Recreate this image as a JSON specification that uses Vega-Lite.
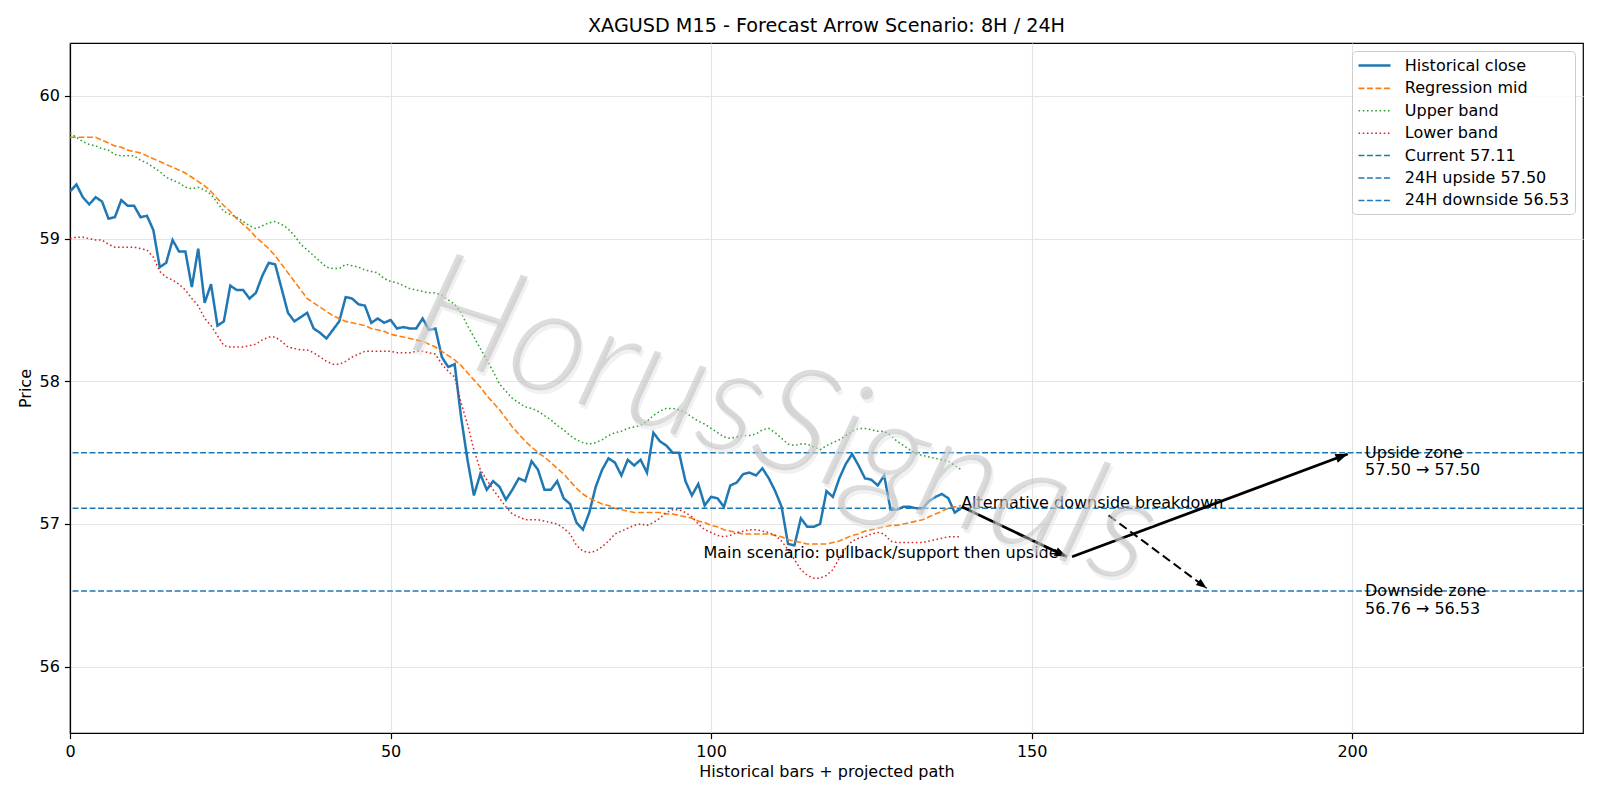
{
  "$schema": "https://vega.github.io/schema/vega-lite/v6.json",
  "width": 1513,
  "height": 690,
  "autosize": {"type": "none"},
  "padding": {"left": 70, "top": 43, "right": 17, "bottom": 67},
  "background": "white",
  "title": {
    "text": "XAGUSD M15 - Forecast Arrow Scenario: 8H / 24H",
    "font": "DejaVu Sans",
    "fontSize": 19.2,
    "fontWeight": "normal",
    "color": "black",
    "anchor": "middle",
    "offset": 7
  },
  "datasets": {
    "bars": [
      {"bar": 0, "close": 59.33, "mid": 59.71, "upper": 59.74, "lower": 59.00},
      {"bar": 1, "close": 59.38, "mid": 59.71, "upper": 59.71, "lower": 59.01},
      {"bar": 2, "close": 59.29, "mid": 59.71, "upper": 59.68, "lower": 59.01},
      {"bar": 3, "close": 59.24, "mid": 59.71, "upper": 59.66, "lower": 59.00},
      {"bar": 4, "close": 59.29, "mid": 59.71, "upper": 59.65, "lower": 58.99},
      {"bar": 5, "close": 59.26, "mid": 59.69, "upper": 59.63, "lower": 58.99},
      {"bar": 6, "close": 59.14, "mid": 59.67, "upper": 59.62, "lower": 58.96},
      {"bar": 7, "close": 59.15, "mid": 59.65, "upper": 59.59, "lower": 58.94},
      {"bar": 8, "close": 59.27, "mid": 59.64, "upper": 59.58, "lower": 58.94},
      {"bar": 9, "close": 59.23, "mid": 59.62, "upper": 59.58, "lower": 58.94},
      {"bar": 10, "close": 59.23, "mid": 59.61, "upper": 59.58, "lower": 58.94},
      {"bar": 11, "close": 59.15, "mid": 59.60, "upper": 59.55, "lower": 58.93},
      {"bar": 12, "close": 59.16, "mid": 59.58, "upper": 59.53, "lower": 58.92},
      {"bar": 13, "close": 59.06, "mid": 59.56, "upper": 59.50, "lower": 58.87},
      {"bar": 14, "close": 58.80, "mid": 59.54, "upper": 59.47, "lower": 58.77},
      {"bar": 15, "close": 58.83, "mid": 59.52, "upper": 59.43, "lower": 58.73},
      {"bar": 16, "close": 58.99, "mid": 59.50, "upper": 59.41, "lower": 58.71},
      {"bar": 17, "close": 58.91, "mid": 59.48, "upper": 59.39, "lower": 58.68},
      {"bar": 18, "close": 58.91, "mid": 59.46, "upper": 59.36, "lower": 58.64},
      {"bar": 19, "close": 58.66, "mid": 59.43, "upper": 59.35, "lower": 58.58},
      {"bar": 20, "close": 58.93, "mid": 59.40, "upper": 59.36, "lower": 58.53},
      {"bar": 21, "close": 58.55, "mid": 59.37, "upper": 59.34, "lower": 58.44},
      {"bar": 22, "close": 58.68, "mid": 59.33, "upper": 59.31, "lower": 58.39},
      {"bar": 23, "close": 58.39, "mid": 59.28, "upper": 59.25, "lower": 58.32},
      {"bar": 24, "close": 58.42, "mid": 59.23, "upper": 59.19, "lower": 58.25},
      {"bar": 25, "close": 58.67, "mid": 59.19, "upper": 59.17, "lower": 58.24},
      {"bar": 26, "close": 58.64, "mid": 59.14, "upper": 59.15, "lower": 58.24},
      {"bar": 27, "close": 58.64, "mid": 59.10, "upper": 59.12, "lower": 58.24},
      {"bar": 28, "close": 58.58, "mid": 59.06, "upper": 59.09, "lower": 58.25},
      {"bar": 29, "close": 58.62, "mid": 59.01, "upper": 59.07, "lower": 58.26},
      {"bar": 30, "close": 58.74, "mid": 58.97, "upper": 59.09, "lower": 58.29},
      {"bar": 31, "close": 58.83, "mid": 58.93, "upper": 59.11, "lower": 58.31},
      {"bar": 32, "close": 58.82, "mid": 58.88, "upper": 59.12, "lower": 58.31},
      {"bar": 33, "close": 58.65, "mid": 58.82, "upper": 59.10, "lower": 58.28},
      {"bar": 34, "close": 58.48, "mid": 58.76, "upper": 59.07, "lower": 58.24},
      {"bar": 35, "close": 58.42, "mid": 58.70, "upper": 59.02, "lower": 58.23},
      {"bar": 36, "close": 58.45, "mid": 58.64, "upper": 58.96, "lower": 58.22},
      {"bar": 37, "close": 58.48, "mid": 58.58, "upper": 58.92, "lower": 58.22},
      {"bar": 38, "close": 58.37, "mid": 58.55, "upper": 58.88, "lower": 58.20},
      {"bar": 39, "close": 58.34, "mid": 58.52, "upper": 58.84, "lower": 58.17},
      {"bar": 40, "close": 58.30, "mid": 58.49, "upper": 58.80, "lower": 58.14},
      {"bar": 41, "close": 58.36, "mid": 58.46, "upper": 58.79, "lower": 58.12},
      {"bar": 42, "close": 58.42, "mid": 58.44, "upper": 58.79, "lower": 58.12},
      {"bar": 43, "close": 58.59, "mid": 58.42, "upper": 58.82, "lower": 58.14},
      {"bar": 44, "close": 58.58, "mid": 58.41, "upper": 58.81, "lower": 58.17},
      {"bar": 45, "close": 58.54, "mid": 58.40, "upper": 58.80, "lower": 58.19},
      {"bar": 46, "close": 58.53, "mid": 58.39, "upper": 58.78, "lower": 58.21},
      {"bar": 47, "close": 58.41, "mid": 58.37, "upper": 58.77, "lower": 58.21},
      {"bar": 48, "close": 58.44, "mid": 58.36, "upper": 58.76, "lower": 58.21},
      {"bar": 49, "close": 58.41, "mid": 58.35, "upper": 58.72, "lower": 58.21},
      {"bar": 50, "close": 58.43, "mid": 58.33, "upper": 58.70, "lower": 58.21},
      {"bar": 51, "close": 58.37, "mid": 58.32, "upper": 58.69, "lower": 58.20},
      {"bar": 52, "close": 58.38, "mid": 58.31, "upper": 58.67, "lower": 58.20},
      {"bar": 53, "close": 58.37, "mid": 58.30, "upper": 58.65, "lower": 58.20},
      {"bar": 54, "close": 58.37, "mid": 58.29, "upper": 58.64, "lower": 58.21},
      {"bar": 55, "close": 58.44, "mid": 58.28, "upper": 58.63, "lower": 58.21},
      {"bar": 56, "close": 58.36, "mid": 58.26, "upper": 58.62, "lower": 58.20},
      {"bar": 57, "close": 58.37, "mid": 58.24, "upper": 58.62, "lower": 58.19},
      {"bar": 58, "close": 58.17, "mid": 58.21, "upper": 58.60, "lower": 58.12},
      {"bar": 59, "close": 58.10, "mid": 58.18, "upper": 58.57, "lower": 58.07},
      {"bar": 60, "close": 58.12, "mid": 58.15, "upper": 58.54, "lower": 58.03},
      {"bar": 61, "close": 57.75, "mid": 58.11, "upper": 58.48, "lower": 57.85},
      {"bar": 62, "close": 57.45, "mid": 58.06, "upper": 58.39, "lower": 57.70},
      {"bar": 63, "close": 57.20, "mid": 58.01, "upper": 58.31, "lower": 57.52},
      {"bar": 64, "close": 57.35, "mid": 57.96, "upper": 58.23, "lower": 57.38},
      {"bar": 65, "close": 57.24, "mid": 57.90, "upper": 58.15, "lower": 57.31},
      {"bar": 66, "close": 57.30, "mid": 57.85, "upper": 58.07, "lower": 57.24},
      {"bar": 67, "close": 57.26, "mid": 57.80, "upper": 57.98, "lower": 57.18},
      {"bar": 68, "close": 57.17, "mid": 57.74, "upper": 57.93, "lower": 57.12},
      {"bar": 69, "close": 57.24, "mid": 57.68, "upper": 57.88, "lower": 57.07},
      {"bar": 70, "close": 57.32, "mid": 57.63, "upper": 57.85, "lower": 57.05},
      {"bar": 71, "close": 57.30, "mid": 57.58, "upper": 57.82, "lower": 57.03},
      {"bar": 72, "close": 57.44, "mid": 57.54, "upper": 57.81, "lower": 57.03},
      {"bar": 73, "close": 57.38, "mid": 57.50, "upper": 57.79, "lower": 57.03},
      {"bar": 74, "close": 57.24, "mid": 57.47, "upper": 57.76, "lower": 57.02},
      {"bar": 75, "close": 57.24, "mid": 57.43, "upper": 57.73, "lower": 57.01},
      {"bar": 76, "close": 57.30, "mid": 57.39, "upper": 57.69, "lower": 57.00},
      {"bar": 77, "close": 57.18, "mid": 57.35, "upper": 57.66, "lower": 56.97},
      {"bar": 78, "close": 57.14, "mid": 57.30, "upper": 57.62, "lower": 56.93},
      {"bar": 79, "close": 57.01, "mid": 57.25, "upper": 57.59, "lower": 56.85},
      {"bar": 80, "close": 56.96, "mid": 57.21, "upper": 57.57, "lower": 56.81},
      {"bar": 81, "close": 57.08, "mid": 57.18, "upper": 57.56, "lower": 56.80},
      {"bar": 82, "close": 57.26, "mid": 57.16, "upper": 57.57, "lower": 56.81},
      {"bar": 83, "close": 57.38, "mid": 57.14, "upper": 57.59, "lower": 56.84},
      {"bar": 84, "close": 57.46, "mid": 57.13, "upper": 57.62, "lower": 56.88},
      {"bar": 85, "close": 57.43, "mid": 57.11, "upper": 57.64, "lower": 56.93},
      {"bar": 86, "close": 57.34, "mid": 57.10, "upper": 57.65, "lower": 56.95},
      {"bar": 87, "close": 57.45, "mid": 57.09, "upper": 57.67, "lower": 56.97},
      {"bar": 88, "close": 57.41, "mid": 57.08, "upper": 57.68, "lower": 56.99},
      {"bar": 89, "close": 57.45, "mid": 57.08, "upper": 57.69, "lower": 57.00},
      {"bar": 90, "close": 57.36, "mid": 57.08, "upper": 57.72, "lower": 56.99},
      {"bar": 91, "close": 57.64, "mid": 57.08, "upper": 57.76, "lower": 57.01},
      {"bar": 92, "close": 57.58, "mid": 57.08, "upper": 57.79, "lower": 57.04},
      {"bar": 93, "close": 57.55, "mid": 57.07, "upper": 57.81, "lower": 57.08},
      {"bar": 94, "close": 57.50, "mid": 57.07, "upper": 57.81, "lower": 57.10},
      {"bar": 95, "close": 57.50, "mid": 57.06, "upper": 57.80, "lower": 57.10},
      {"bar": 96, "close": 57.30, "mid": 57.05, "upper": 57.78, "lower": 57.08},
      {"bar": 97, "close": 57.20, "mid": 57.04, "upper": 57.75, "lower": 57.05},
      {"bar": 98, "close": 57.28, "mid": 57.02, "upper": 57.72, "lower": 57.00},
      {"bar": 99, "close": 57.13, "mid": 57.01, "upper": 57.70, "lower": 56.96},
      {"bar": 100, "close": 57.19, "mid": 56.99, "upper": 57.67, "lower": 56.94},
      {"bar": 101, "close": 57.18, "mid": 56.98, "upper": 57.64, "lower": 56.92},
      {"bar": 102, "close": 57.12, "mid": 56.96, "upper": 57.61, "lower": 56.91},
      {"bar": 103, "close": 57.27, "mid": 56.95, "upper": 57.60, "lower": 56.92},
      {"bar": 104, "close": 57.29, "mid": 56.94, "upper": 57.61, "lower": 56.94},
      {"bar": 105, "close": 57.35, "mid": 56.93, "upper": 57.62, "lower": 56.95},
      {"bar": 106, "close": 57.36, "mid": 56.93, "upper": 57.62, "lower": 56.96},
      {"bar": 107, "close": 57.34, "mid": 56.93, "upper": 57.63, "lower": 56.96},
      {"bar": 108, "close": 57.39, "mid": 56.93, "upper": 57.66, "lower": 56.95},
      {"bar": 109, "close": 57.32, "mid": 56.93, "upper": 57.67, "lower": 56.94},
      {"bar": 110, "close": 57.23, "mid": 56.92, "upper": 57.64, "lower": 56.92},
      {"bar": 111, "close": 57.12, "mid": 56.91, "upper": 57.60, "lower": 56.88},
      {"bar": 112, "close": 56.86, "mid": 56.89, "upper": 57.56, "lower": 56.82},
      {"bar": 113, "close": 56.85, "mid": 56.88, "upper": 57.55, "lower": 56.75},
      {"bar": 114, "close": 57.04, "mid": 56.87, "upper": 57.56, "lower": 56.68},
      {"bar": 115, "close": 56.98, "mid": 56.86, "upper": 57.56, "lower": 56.64},
      {"bar": 116, "close": 56.98, "mid": 56.86, "upper": 57.54, "lower": 56.62},
      {"bar": 117, "close": 57.00, "mid": 56.86, "upper": 57.52, "lower": 56.62},
      {"bar": 118, "close": 57.23, "mid": 56.86, "upper": 57.55, "lower": 56.64},
      {"bar": 119, "close": 57.19, "mid": 56.87, "upper": 57.57, "lower": 56.68},
      {"bar": 120, "close": 57.32, "mid": 56.88, "upper": 57.59, "lower": 56.76},
      {"bar": 121, "close": 57.42, "mid": 56.90, "upper": 57.62, "lower": 56.83},
      {"bar": 122, "close": 57.49, "mid": 56.92, "upper": 57.65, "lower": 56.88},
      {"bar": 123, "close": 57.41, "mid": 56.93, "upper": 57.67, "lower": 56.90},
      {"bar": 124, "close": 57.32, "mid": 56.95, "upper": 57.67, "lower": 56.91},
      {"bar": 125, "close": 57.31, "mid": 56.96, "upper": 57.66, "lower": 56.93},
      {"bar": 126, "close": 57.27, "mid": 56.97, "upper": 57.65, "lower": 56.94},
      {"bar": 127, "close": 57.34, "mid": 56.98, "upper": 57.65, "lower": 56.93},
      {"bar": 128, "close": 57.10, "mid": 56.99, "upper": 57.62, "lower": 56.88},
      {"bar": 129, "close": 57.10, "mid": 56.99, "upper": 57.58, "lower": 56.87},
      {"bar": 130, "close": 57.12, "mid": 57.00, "upper": 57.55, "lower": 56.87},
      {"bar": 131, "close": 57.12, "mid": 57.01, "upper": 57.52, "lower": 56.87},
      {"bar": 132, "close": 57.11, "mid": 57.02, "upper": 57.49, "lower": 56.87},
      {"bar": 133, "close": 57.11, "mid": 57.03, "upper": 57.48, "lower": 56.87},
      {"bar": 134, "close": 57.16, "mid": 57.05, "upper": 57.47, "lower": 56.88},
      {"bar": 135, "close": 57.19, "mid": 57.07, "upper": 57.46, "lower": 56.89},
      {"bar": 136, "close": 57.21, "mid": 57.09, "upper": 57.45, "lower": 56.90},
      {"bar": 137, "close": 57.18, "mid": 57.11, "upper": 57.44, "lower": 56.91},
      {"bar": 138, "close": 57.08, "mid": 57.12, "upper": 57.41, "lower": 56.91},
      {"bar": 139, "close": 57.11, "mid": 57.13, "upper": 57.38, "lower": 56.91}
    ],
    "levels": [
      {"series": "Current 57.11", "price": 57.11},
      {"series": "24H upside 57.50", "price": 57.50},
      {"series": "24H downside 56.53", "price": 56.53}
    ],
    "arrows": [
      {"arrow": "pullback", "x": 139.1, "y": 57.12, "x2": 155.5, "y2": 56.77},
      {"arrow": "upside", "x": 156.3, "y": 56.77, "x2": 199.3, "y2": 57.49},
      {"arrow": "breakdown", "x": 162.0, "y": 57.06, "x2": 177.3, "y2": 56.55}
    ],
    "zones": [
      {"label": "Upside zone\n57.50 → 57.50", "x": 202, "y": 57.50},
      {"label": "Downside zone\n56.76 → 56.53", "x": 202, "y": 56.53}
    ],
    "notes": [
      {"label": "Main scenario: pullback/support then upside", "x": 154.2, "y": 56.76},
      {"label": "Alternative downside breakdown", "x": 139.0, "y": 57.11}
    ],
    "brand": [
      {"label": "HorusSignals", "x": 111.4, "y": 57.70}
    ]
  },
  "encoding": {
    "x": {
      "field": "bar", "type": "quantitative",
      "title": "Historical bars + projected path",
      "scale": {"domain": [0, 236], "nice": false, "zero": false},
      "axis": {"values": [0, 50, 100, 150, 200], "format": "d"}
    },
    "y": {
      "field": "price", "type": "quantitative", "title": "Price",
      "scale": {"domain": [55.535, 60.371], "nice": false, "zero": false},
      "axis": {"values": [56, 57, 58, 59, 60], "format": "d"}
    }
  },
  "layer": [
    {
      "data": {"name": "bars"},
      "transform": [{"fold": ["close", "mid", "upper", "lower"], "as": ["series", "price"]}],
      "mark": {"type": "line"},
      "encoding": {
        "color": {
          "field": "series", "type": "nominal",
          "scale": {
            "domain": ["close", "mid", "upper", "lower", "Current 57.11", "24H upside 57.50", "24H downside 56.53"],
            "range": ["#1f77b4", "#ff7f0e", "#2ca02c", "#d62728", "#1f77b4", "#1f77b4", "#1f77b4"]
          },
          "legend": {
            "title": null,
            "labelExpr": "datum.label === 'close' ? 'Historical close' : datum.label === 'mid' ? 'Regression mid' : datum.label === 'upper' ? 'Upper band' : datum.label === 'lower' ? 'Lower band' : datum.label"
          }
        },
        "strokeDash": {
          "field": "series", "type": "nominal",
          "scale": {
            "domain": ["close", "mid", "upper", "lower", "Current 57.11", "24H upside 57.50", "24H downside 56.53"],
            "range": [[1, 0], [5.9, 2.6], [1.6, 2.6], [1.6, 2.6], [5.9, 2.6], [5.9, 2.6], [5.9, 2.6]]
          },
          "legend": {
            "title": null,
            "labelExpr": "datum.label === 'close' ? 'Historical close' : datum.label === 'mid' ? 'Regression mid' : datum.label === 'upper' ? 'Upper band' : datum.label === 'lower' ? 'Lower band' : datum.label"
          }
        },
        "strokeWidth": {
          "field": "series", "type": "nominal",
          "scale": {
            "type": "ordinal",
            "domain": ["close", "mid", "upper", "lower", "Current 57.11", "24H upside 57.50", "24H downside 56.53"],
            "range": [2.5, 1.6, 1.5, 1.5, 1.5, 1.5, 1.5]
          },
          "legend": {
            "title": null,
            "labelExpr": "datum.label === 'close' ? 'Historical close' : datum.label === 'mid' ? 'Regression mid' : datum.label === 'upper' ? 'Upper band' : datum.label === 'lower' ? 'Lower band' : datum.label"
          }
        }
      }
    },
    {
      "data": {"name": "levels"},
      "mark": {"type": "rule"},
      "encoding": {
        "x": null,
        "color": {"field": "series", "type": "nominal"},
        "strokeDash": {"field": "series", "type": "nominal"},
        "strokeWidth": {
          "field": "series", "type": "nominal",
          "scale": {
            "type": "ordinal",
            "domain": ["close", "mid", "upper", "lower", "Current 57.11", "24H upside 57.50", "24H downside 56.53"],
            "range": [2.5, 1.6, 1.5, 1.5, 1.5, 1.5, 1.5]
          }
        }
      }
    },
    {
      "data": {"name": "arrows"},
      "transform": [{"filter": "datum.arrow !== 'breakdown'"}],
      "mark": {"type": "rule", "color": "black", "strokeWidth": 2.8},
      "encoding": {
        "x": {"field": "x", "type": "quantitative"},
        "y": {"field": "y", "type": "quantitative"},
        "x2": {"field": "x2"},
        "y2": {"field": "y2"}
      }
    },
    {
      "data": {"name": "arrows"},
      "transform": [{"filter": "datum.arrow === 'breakdown'"}],
      "mark": {"type": "rule", "color": "black", "strokeWidth": 2, "strokeDash": [9, 4.5]},
      "encoding": {
        "x": {"field": "x", "type": "quantitative"},
        "y": {"field": "y", "type": "quantitative"},
        "x2": {"field": "x2"},
        "y2": {"field": "y2"}
      }
    },
    {
      "data": {"name": "arrows"},
      "transform": [{"filter": "datum.arrow === 'pullback'"}],
      "mark": {"type": "point", "shape": "M0,0L-2,-0.75L-2,0.75Z", "filled": true, "color": "black", "opacity": 1, "size": 150, "angle": 25.4},
      "encoding": {
        "x": {"field": "x2", "type": "quantitative"},
        "y": {"field": "y2", "type": "quantitative"}
      }
    },
    {
      "data": {"name": "arrows"},
      "transform": [{"filter": "datum.arrow === 'upside'"}],
      "mark": {"type": "point", "shape": "M0,0L-2,-0.75L-2,0.75Z", "filled": true, "color": "black", "opacity": 1, "size": 150, "angle": 339.5},
      "encoding": {
        "x": {"field": "x2", "type": "quantitative"},
        "y": {"field": "y2", "type": "quantitative"}
      }
    },
    {
      "data": {"name": "arrows"},
      "transform": [{"filter": "datum.arrow === 'breakdown'"}],
      "mark": {"type": "point", "shape": "M0,0L-2,-0.75L-2,0.75Z", "filled": true, "color": "black", "opacity": 1, "size": 110, "angle": 36.6},
      "encoding": {
        "x": {"field": "x2", "type": "quantitative"},
        "y": {"field": "y2", "type": "quantitative"}
      }
    },
    {
      "data": {"name": "notes"},
      "transform": [{"filter": "datum.x > 150"}],
      "mark": {"type": "text", "align": "right", "baseline": "alphabetic", "font": "DejaVu Sans", "fontSize": 16, "color": "black"},
      "encoding": {
        "x": {"field": "x", "type": "quantitative"},
        "y": {"field": "y", "type": "quantitative"},
        "text": {"field": "label"}
      }
    },
    {
      "data": {"name": "notes"},
      "transform": [{"filter": "datum.x < 150"}],
      "mark": {"type": "text", "align": "left", "baseline": "alphabetic", "font": "DejaVu Sans", "fontSize": 16, "color": "black"},
      "encoding": {
        "x": {"field": "x", "type": "quantitative"},
        "y": {"field": "y", "type": "quantitative"},
        "text": {"field": "label"}
      }
    },
    {
      "data": {"name": "zones"},
      "mark": {"type": "text", "align": "left", "baseline": "middle", "lineBreak": "\n", "lineHeight": 17.5, "font": "DejaVu Sans", "fontSize": 16, "color": "black"},
      "encoding": {
        "x": {"field": "x", "type": "quantitative"},
        "y": {"field": "y", "type": "quantitative"},
        "text": {"field": "label"}
      }
    },
    {
      "data": {"name": "brand"},
      "mark": {"type": "text", "align": "center", "baseline": "middle", "dx": 3, "dy": 3, "font": "Lato", "fontStyle": "italic", "fontWeight": 300, "fontSize": 148, "angle": 18, "color": "#e4e4e4", "opacity": 0.5},
      "encoding": {
        "x": {"field": "x", "type": "quantitative"},
        "y": {"field": "y", "type": "quantitative"},
        "text": {"field": "label"}
      }
    },
    {
      "data": {"name": "brand"},
      "mark": {"type": "text", "align": "center", "baseline": "middle", "font": "Lato", "fontStyle": "italic", "fontWeight": 300, "fontSize": 148, "angle": 18, "color": "#bababa", "opacity": 0.5},
      "encoding": {
        "x": {"field": "x", "type": "quantitative"},
        "y": {"field": "y", "type": "quantitative"},
        "text": {"field": "label"}
      }
    }
  ],
  "config": {
    "view": {"stroke": "black", "strokeWidth": 1.2},
    "axis": {
      "labelFont": "DejaVu Sans",
      "labelFontSize": 16,
      "labelColor": "black",
      "titleFont": "DejaVu Sans",
      "titleFontSize": 16,
      "titleFontWeight": "normal",
      "titleColor": "black",
      "domainColor": "black",
      "domainWidth": 1.2,
      "tickColor": "black",
      "tickSize": 5.6,
      "tickWidth": 1.2,
      "labelPadding": 5,
      "grid": true,
      "gridColor": "#e4e4e4",
      "gridWidth": 1.2
    },
    "axisX": {"titlePadding": 4, "labelFlush": false},
    "axisY": {"titlePadding": 6, "labelFlush": false},
    "legend": {
      "orient": "top-right",
      "offset": 8,
      "labelFont": "DejaVu Sans",
      "labelFontSize": 16,
      "labelColor": "black",
      "labelLimit": 400,
      "labelOffset": 28.8,
      "symbolType": "M-1,0H3",
      "symbolSize": 256,
      "rowPadding": 5.4,
      "padding": 5,
      "fillColor": "rgba(255,255,255,0.85)",
      "strokeColor": "#cccccc",
      "cornerRadius": 4
    }
  }
}
